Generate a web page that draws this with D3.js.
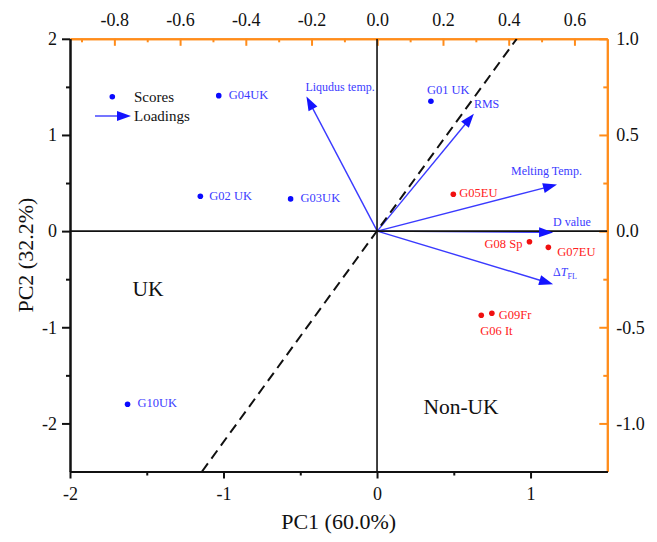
<!DOCTYPE html>
<html>
<head>
<meta charset="utf-8">
<script src="https://cdn.jsdelivr.net/npm/d3@7"></script>
<style>
  html, body { margin: 0; padding: 0; background: #fff; }
  svg { display: block; font-family: "Liberation Serif", "Times New Roman", serif; }
</style>
</head>
<body>
<svg id="chart" width="657" height="542"></svg>
<script>
// PCA biplot: sample scores (PC1/PC2, bottom/left axes) and variable loadings (top/right axes)

// ---- scores ----
const scoreNames  = ["G01 UK", "G02 UK", "G03UK", "G04UK", "G05EU", "G06 It", "G07EU", "G08 Sp", "G09Fr", "G10UK"];
const scorePC1    = [0.351, -1.151, -0.563, -1.031, 0.497, 0.679, 1.116, 0.993, 0.748, -1.625];
const scorePC2    = [1.350, 0.363, 0.335, 1.409, 0.384, -0.875, -0.169, -0.111, -0.855, -1.800];
const scoreGroup  = ["UK", "UK", "UK", "UK", "Non-UK", "Non-UK", "Non-UK", "Non-UK", "Non-UK", "UK"];

// ---- loadings ----
const loadingNames = ["Liqudus temp.", "RMS", "Melting Temp.", "D value", "ΔT_FL"];
const loadingPC1   = [-0.2155, 0.294, 0.547, 0.535, 0.535];
const loadingPC2   = [0.700, 0.610, 0.242, -0.007, -0.276];

// ---- separating line (in score units) ----
const dividerPC1 = [-1.14, 0.91];
const dividerPC2 = [-2.5, 2.0];

// ---- axis ticks ----
const bottomTicks = [-2, -1, 0, 1];
const bottomMinor = [-1.5, -0.5, 0.5];
const leftTicks   = [-2, -1, 0, 1, 2];
const leftMinor   = [-1.5, -0.5, 0.5, 1.5];
const topTicks    = [-0.8, -0.6, -0.4, -0.2, 0.0, 0.2, 0.4, 0.6];
const topMinor    = [-0.9, -0.7, -0.5, -0.3, -0.1, 0.1, 0.3, 0.5];
const rightTicks  = [-1.0, -0.5, 0.0, 0.5, 1.0];
const rightMinor  = [-0.75, -0.25, 0.25, 0.75];

// label placement (pixel offsets from the point / arrow tip)
const scoreLabelPos = {
  "G01 UK": { dx: -4, dy: -12, anchor: "start" },
  "G02 UK": { dx: 9,  dy: -1,  anchor: "start" },
  "G03UK":  { dx: 10, dy: -1,  anchor: "start" },
  "G04UK":  { dx: 10, dy: -1,  anchor: "start" },
  "G05EU":  { dx: 6,  dy: -2,  anchor: "start" },
  "G06 It": { dx: -1, dy: 15,  anchor: "start" },
  "G07EU":  { dx: 9,  dy: 4,   anchor: "start" },
  "G08 Sp": { dx: -7, dy: 2,   anchor: "end" },
  "G09Fr":  { dx: 7,  dy: 1,   anchor: "start" },
  "G10UK":  { dx: 10, dy: -2,  anchor: "start" }
};
const loadingLabelPos = {
  "Liqudus temp.": { dx: -1,  dy: -5 },
  "RMS":           { dx: 0,   dy: -6 },
  "Melting Temp.": { dx: -46, dy: -10 },
  "D value":       { dx: 0,   dy: -6 },
  "ΔT_FL":         { dx: 0,   dy: -8 }
};

const svg = d3.select("#chart");
const L = 70, R = 607.3, T = 38.8, B = 471.5;
const ORANGE = "#ff8c1a";
const BLUE_PT = "#0a0aff", BLUE_TXT = "#3b3bff", BLUE_LINE = "#3a3aff";
const RED_PT = "#f01010", RED_TXT = "#ff2020";

const x  = d3.scaleLinear().domain([-2, 1.5]).range([L, R]);
const y  = d3.scaleLinear().domain([-2.5, 2]).range([B, T]);
const xL = d3.scaleLinear().domain([-0.935, 0.7]).range([L, R]);
const yL = d3.scaleLinear().domain([-1.25, 1]).range([B, T]);

// plain hyphen-minus for negative tick labels
const fmtInt = d => d3.format("d")(d).replace("\u2212", "-");
const fmt1 = d => d3.format(".1f")(d).replace("\u2212", "-");

svg.append("defs").append("clipPath").attr("id", "plot-clip")
  .append("rect").attr("x", L).attr("y", T).attr("width", R - L).attr("height", B - T);

// ---- axes ----
function styleAxis(g, color, width) {
  g.select(".domain").attr("stroke", color).attr("stroke-width", width);
  g.selectAll(".tick line").attr("stroke", color).attr("stroke-width", width);
  g.selectAll(".tick text").attr("fill", "#111").attr("font-size", 18)
    .attr("font-family", "Liberation Serif, Times New Roman, serif");
}

// top (loadings PC1) – orange, inward ticks
const gTopMinor = svg.append("g").attr("transform", `translate(0,${T})`)
  .call(d3.axisTop(xL).tickValues(topMinor).tickSizeInner(-3.5).tickSizeOuter(0).tickFormat(""));
styleAxis(gTopMinor, ORANGE, 2);
const gTop = svg.append("g").attr("transform", `translate(0,${T})`)
  .call(d3.axisTop(xL).tickValues(topTicks).tickSizeInner(-7).tickSizeOuter(0).tickPadding(13).tickFormat(fmt1));
styleAxis(gTop, ORANGE, 2);

// right (loadings PC2) – orange, inward ticks
const gRightMinor = svg.append("g").attr("transform", `translate(${R},0)`)
  .call(d3.axisRight(yL).tickValues(rightMinor).tickSizeInner(-4).tickSizeOuter(0).tickFormat(""));
styleAxis(gRightMinor, ORANGE, 2);
const gRight = svg.append("g").attr("transform", `translate(${R},0)`)
  .call(d3.axisRight(yL).tickValues(rightTicks).tickSizeInner(-8).tickSizeOuter(0).tickPadding(9).tickFormat(fmt1));
styleAxis(gRight, ORANGE, 2);

// bottom (PC1 scores) – black, outward ticks
const gBottomMinor = svg.append("g").attr("transform", `translate(0,${B})`)
  .call(d3.axisBottom(x).tickValues(bottomMinor).tickSizeInner(4).tickSizeOuter(0).tickFormat(""));
styleAxis(gBottomMinor, "#111", 2);
const gBottom = svg.append("g").attr("transform", `translate(0,${B})`)
  .call(d3.axisBottom(x).tickValues(bottomTicks).tickSizeInner(7).tickSizeOuter(0).tickPadding(9).tickFormat(fmtInt));
styleAxis(gBottom, "#111", 2);

// left (PC2 scores) – black, outward ticks
const gLeftMinor = svg.append("g").attr("transform", `translate(${L},0)`)
  .call(d3.axisLeft(y).tickValues(leftMinor).tickSizeInner(4).tickSizeOuter(0).tickFormat(""));
styleAxis(gLeftMinor, "#111", 2);
const gLeft = svg.append("g").attr("transform", `translate(${L},0)`)
  .call(d3.axisLeft(y).tickValues(leftTicks).tickSizeInner(8).tickSizeOuter(0).tickPadding(5).tickFormat(fmtInt));
styleAxis(gLeft, "#111", 2);

// axis titles
svg.append("text").attr("x", (L + R) / 2).attr("y", 529).attr("text-anchor", "middle")
  .attr("font-size", 22).attr("fill", "#111").text("PC1 (60.0%)");
svg.append("text").attr("transform", `translate(33,${(T + B) / 2}) rotate(-90)`)
  .attr("text-anchor", "middle").attr("font-size", 22).attr("fill", "#111").text("PC2 (32.2%)");

const plot = svg.append("g").attr("clip-path", "url(#plot-clip)");

// ---- loadings arrows ----
const HEAD_LEN = 14, HEAD_HALF = 5;
function headPath(x0, y0, x1, y1) {
  const dx = x1 - x0, dy = y1 - y0, len = Math.hypot(dx, dy);
  const ux = dx / len, uy = dy / len;
  const bx = x1 - ux * HEAD_LEN, by = y1 - uy * HEAD_LEN;
  return { d: `M${x1},${y1}L${bx - uy * HEAD_HALF},${by + ux * HEAD_HALF}L${bx + uy * HEAD_HALF},${by - ux * HEAD_HALF}Z`,
           bx: bx + ux * 2, by: by + uy * 2 };
}
const arrows = plot.append("g");
loadingNames.forEach((n, i) => {
  const h = headPath(xL(0), yL(0), xL(loadingPC1[i]), yL(loadingPC2[i]));
  arrows.append("line").attr("x1", xL(0)).attr("y1", yL(0)).attr("x2", h.bx).attr("y2", h.by)
    .attr("stroke", BLUE_LINE).attr("stroke-width", 1.4);
});

// ---- zero lines ----
plot.append("line").attr("x1", x(0)).attr("x2", x(0)).attr("y1", T).attr("y2", B)
  .attr("stroke", "#111").attr("stroke-width", 1.6);
plot.append("line").attr("x1", L).attr("x2", R).attr("y1", y(0)).attr("y2", y(0))
  .attr("stroke", "#111").attr("stroke-width", 1.6);

// arrowheads above the zero lines
loadingNames.forEach((n, i) => {
  const h = headPath(xL(0), yL(0), xL(loadingPC1[i]), yL(loadingPC2[i]));
  plot.append("path").attr("d", h.d).attr("fill", "#1414ff");
});

// ---- dashed divider ----
plot.append("line")
  .attr("x1", x(dividerPC1[0])).attr("y1", y(dividerPC2[0]))
  .attr("x2", x(dividerPC1[1])).attr("y2", y(dividerPC2[1]))
  .attr("stroke", "#111").attr("stroke-width", 2).attr("stroke-dasharray", "10,6");

// loading labels
loadingNames.forEach((n, i) => {
  const p = loadingLabelPos[n];
  const t = plot.append("text")
    .attr("x", xL(loadingPC1[i]) + p.dx).attr("y", yL(loadingPC2[i]) + p.dy)
    .attr("font-size", 12).attr("fill", BLUE_TXT);
  if (n === "ΔT_FL") {
    t.append("tspan").text("Δ");
    t.append("tspan").attr("font-style", "italic").text("T");
    t.append("tspan").attr("font-size", 8).attr("dy", 3).text("FL");
  } else {
    t.text(n);
  }
});

// ---- scores ----
const scores = scoreNames.map((n, i) => ({ name: n, pc1: scorePC1[i], pc2: scorePC2[i], group: scoreGroup[i] }));
plot.selectAll("circle.score").data(scores).join("circle")
  .attr("class", "score")
  .attr("cx", d => x(d.pc1)).attr("cy", d => y(d.pc2)).attr("r", 2.8)
  .attr("fill", d => d.group === "UK" ? BLUE_PT : RED_PT);
plot.selectAll("text.score").data(scores).join("text")
  .attr("class", "score")
  .attr("x", d => x(d.pc1) + scoreLabelPos[d.name].dx)
  .attr("y", d => y(d.pc2) + scoreLabelPos[d.name].dy)
  .attr("dy", "0.35em")
  .attr("text-anchor", d => scoreLabelPos[d.name].anchor)
  .attr("font-size", 12.5)
  .attr("fill", d => d.group === "UK" ? BLUE_TXT : RED_TXT)
  .text(d => d.name);

// ---- region labels ----
plot.append("text").attr("x", 148).attr("y", 288).attr("dy", "0.35em").attr("text-anchor", "middle")
  .attr("font-size", 21.5).attr("fill", "#111").text("UK");
plot.append("text").attr("x", 461).attr("y", 406).attr("dy", "0.35em").attr("text-anchor", "middle")
  .attr("font-size", 21.5).attr("fill", "#111").text("Non-UK");

// ---- legend ----
const legend = svg.append("g");
legend.append("circle").attr("cx", 112.3).attr("cy", 96.7).attr("r", 2.8).attr("fill", BLUE_PT);
legend.append("text").attr("x", 134).attr("y", 96.7).attr("dy", "0.35em").attr("font-size", 15)
  .attr("fill", "#111").text("Scores");
legend.append("line").attr("x1", 95).attr("x2", 120).attr("y1", 116).attr("y2", 116)
  .attr("stroke", BLUE_LINE).attr("stroke-width", 1.4);
legend.append("path").attr("d", "M131,116L117,111L117,121Z").attr("fill", "#1414ff");
legend.append("text").attr("x", 134).attr("y", 116).attr("dy", "0.35em").attr("font-size", 15)
  .attr("fill", "#111").text("Loadings");
</script>
</body>
</html>
